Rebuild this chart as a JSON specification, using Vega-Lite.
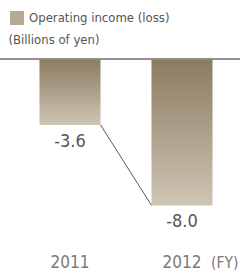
{
  "$schema": "https://vega.github.io/schema/vega-lite/v6.json",
  "width": 240,
  "height": 245,
  "autosize": "none",
  "padding": {"left": 0, "top": 0, "right": 0, "bottom": 25},
  "background": "white",
  "config": {
    "view": {"stroke": null},
    "font": "DejaVu Sans Condensed",
    "axisX": {
      "domain": false, "ticks": false, "grid": false,
      "labelAngle": 0, "labelFont": "DejaVu Sans Condensed", "labelFontSize": 17, "labelFontWeight": "normal", "labelColor": "#7a7a7a",
      "labelBaseline": "alphabetic", "labelPadding": 22,
      "titleX": 238, "titleY": 22, "titleAlign": "right", "titleAnchor": null,
      "titleFont": "DejaVu Sans Condensed", "titleBaseline": "alphabetic", "titleFontSize": 15.5, "titleFontWeight": "normal", "titleColor": "#7a7a7a"
    },
    "axisY": {
      "labels": false, "ticks": false, "domain": false, "grid": false,
      "titleAngle": 0, "titleX": 8, "titleY": 43,
      "titleAlign": "left", "titleAnchor": null, "titleBaseline": "alphabetic",
      "titleFontSize": 13, "titleFontWeight": "normal", "titleColor": "#555555"
    }
  },
  "data": {"values": [
    {"year": "2011", "value": -3.6, "label": "-3.6"},
    {"year": "2012", "value": -8.0, "label": "-8.0"}
  ]},
  "encoding": {
    "x": {
      "field": "year", "type": "nominal", "sort": null,
      "scale": {"type": "band", "domain": ["2011", "2012"], "range": [14, 238], "paddingInner": 0.455, "paddingOuter": 0.2275},
      "axis": {"title": "(FY)"}
    },
    "y": {
      "field": "value", "type": "quantitative",
      "scale": {"domain": [-10.164, 3.224], "nice": false, "zero": false},
      "axis": {"title": "(Billions of yen)"}
    }
  },
  "layer": [
    {
      "mark": {
        "type": "bar",
        "color": {
          "gradient": "linear", "x1": 0, "y1": 0, "x2": 0, "y2": 1,
          "stops": [{"offset": 0, "color": "#8b7b61"}, {"offset": 1, "color": "#cfc5b4"}]
        }
      },
      "encoding": {"y2": {"datum": 0}}
    },
    {
      "data": {"values": [{"year": "2011", "next": "2012", "value": -3.6, "nextValue": -8.0}]},
      "mark": {"type": "rule", "color": "#555555", "strokeWidth": 1, "xOffset": 30.5, "x2Offset": -30.5},
      "encoding": {
        "x2": {"field": "next"},
        "y2": {"field": "nextValue"}
      }
    },
    {
      "mark": {"type": "rule", "color": "#8a8a8a", "strokeWidth": 1.3},
      "encoding": {"x": null, "y": {"datum": 0}}
    },
    {
      "mark": {"type": "text", "baseline": "alphabetic", "dy": 22, "fontSize": 18, "color": "#555555"},
      "encoding": {"text": {"field": "label"}}
    },
    {
      "mark": {"type": "square", "opacity": 0},
      "encoding": {
        "color": {
          "datum": "Operating income (loss)",
          "scale": {"range": ["#b6aa95"]},
          "legend": {
            "orient": "none", "legendX": 10, "legendY": 11, "title": null,
            "symbolType": "square", "symbolSize": 196, "symbolOpacity": 1, "symbolStrokeWidth": 0,
            "labelFontSize": 13, "labelColor": "#555555", "labelOffset": 5, "labelLimit": 0, "padding": 0
          }
        }
      }
    }
  ]
}
